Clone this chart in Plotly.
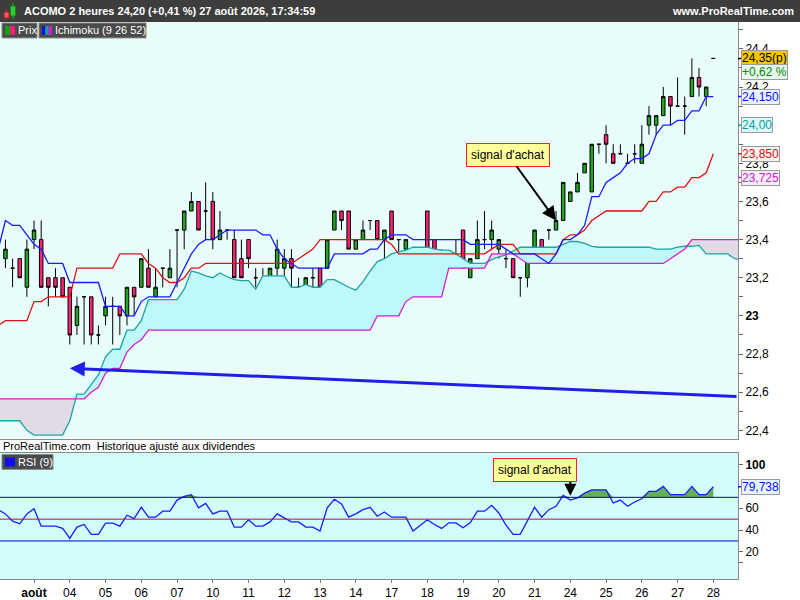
import numpy as np
import plotly.graph_objects as go

FONT = "Liberation Sans, Arial, sans-serif"

# ACOMO, bougies 2 heures. bar 0 = 31 juil. (dernier), bar 5 = 3 août 9h ... bar 99 = 27 août 17h
# bar 100 = cours d'ouverture indicatif (p) du 28 août
candle_bars = list(range(1, 101))
opens = [23.30, 23.25, 23.30, 23.15, 23.40, 23.40, 23.20, 23.20, 23.20, 23.15,
         22.95, 23.10, 23.10, 22.90, 23.00, 23.05, 23.05, 23.00, 23.15, 23.15,
         23.25, 23.10, 23.25, 23.20, 23.45, 23.45, 23.55, 23.60, 23.55, 23.60,
         23.40, 23.45, 23.40, 23.30, 23.40, 23.20, 23.20, 23.20, 23.25, 23.25,
         23.30, 23.15, 23.15, 23.20, 23.25, 23.25, 23.45, 23.55, 23.55, 23.35,
         23.40, 23.50, 23.50, 23.40, 23.55, 23.40, 23.35, 23.30, 23.35, 23.55,
         23.40, 23.25, 23.30, 23.30, 23.45, 23.20, 23.30, 23.40, 23.40, 23.35,
         23.30, 23.30, 23.20, 23.20, 23.35, 23.40, 23.45, 23.45, 23.50, 23.60,
         23.65, 23.75, 23.65, 23.90, 23.95, 23.85, 23.85, 23.80, 23.85, 23.80,
         24.00, 24.00, 24.05, 24.15, 24.10, 24.10, 24.15, 24.25, 24.15, 24.35]
highs = [23.40, 23.30, 23.30, 23.40, 23.50, 23.50, 23.20, 23.25, 23.20, 23.15,
         23.10, 23.10, 23.10, 22.95, 23.10, 23.10, 23.05, 23.15, 23.15, 23.30,
         23.35, 23.25, 23.25, 23.35, 23.45, 23.55, 23.65, 23.60, 23.70, 23.65,
         23.55, 23.45, 23.45, 23.40, 23.40, 23.25, 23.25, 23.25, 23.40, 23.35,
         23.35, 23.20, 23.20, 23.25, 23.25, 23.40, 23.55, 23.55, 23.55, 23.40,
         23.50, 23.50, 23.50, 23.45, 23.55, 23.40, 23.40, 23.30, 23.35, 23.55,
         23.40, 23.35, 23.30, 23.40, 23.45, 23.30, 23.50, 23.55, 23.50, 23.40,
         23.35, 23.30, 23.20, 23.30, 23.45, 23.40, 23.45, 23.55, 23.70, 23.65,
         23.75, 23.80, 23.90, 23.90, 24.00, 23.90, 23.90, 23.85, 23.90, 24.00,
         24.10, 24.05, 24.20, 24.15, 24.25, 24.15, 24.35, 24.30, 24.20, 24.35]
lows = [23.25, 23.15, 23.20, 23.10, 23.35, 23.15, 23.05, 23.10, 23.10, 22.85,
        22.90, 22.85, 22.85, 22.85, 22.95, 22.85, 22.90, 22.95, 23.00, 23.15,
        23.15, 23.10, 23.15, 23.20, 23.15, 23.35, 23.55, 23.45, 23.40, 23.35,
        23.40, 23.40, 23.20, 23.20, 23.25, 23.15, 23.15, 23.10, 23.20, 23.20,
        23.15, 23.15, 23.10, 23.15, 23.15, 23.25, 23.45, 23.45, 23.35, 23.35,
        23.40, 23.45, 23.40, 23.30, 23.40, 23.30, 23.30, 23.25, 23.25, 23.25,
        23.25, 23.25, 23.25, 23.25, 23.25, 23.20, 23.30, 23.35, 23.35, 23.30,
        23.25, 23.20, 23.10, 23.15, 23.35, 23.35, 23.40, 23.45, 23.50, 23.60,
        23.65, 23.75, 23.65, 23.85, 23.80, 23.80, 23.85, 23.80, 23.80, 23.80,
        23.95, 23.95, 24.05, 24.00, 24.10, 23.95, 24.15, 24.15, 24.10, 24.35]
closes = [23.35, 23.25, 23.20, 23.35, 23.45, 23.15, 23.15, 23.15, 23.10, 22.90,
          23.05, 23.10, 22.90, 22.90, 23.05, 23.05, 23.00, 23.15, 23.10, 23.30,
          23.15, 23.15, 23.25, 23.25, 23.45, 23.55, 23.60, 23.45, 23.55, 23.40,
          23.45, 23.45, 23.20, 23.20, 23.30, 23.20, 23.20, 23.25, 23.35, 23.30,
          23.25, 23.15, 23.20, 23.20, 23.15, 23.40, 23.55, 23.50, 23.35, 23.40,
          23.45, 23.50, 23.40, 23.45, 23.40, 23.40, 23.40, 23.25, 23.30, 23.30,
          23.30, 23.25, 23.30, 23.30, 23.25, 23.30, 23.40, 23.40, 23.45, 23.40,
          23.30, 23.20, 23.20, 23.30, 23.45, 23.35, 23.45, 23.50, 23.70, 23.65,
          23.70, 23.80, 23.90, 23.90, 23.90, 23.80, 23.85, 23.80, 23.85, 23.90,
          24.05, 24.05, 24.15, 24.10, 24.10, 24.10, 24.25, 24.20, 24.20, 24.35]

# Ichimoku (9 26 52), bars 0..100
ind_bars = list(range(0, 101))
tenkan = [23.35,
          23.50, 23.475, 23.475, 23.425, 23.375, 23.35, 23.275, 23.275, 23.275, 23.175,
          23.175, 23.175, 23.175, 23.175, 23.05, 23.05, 23.05, 23.00, 23.00, 23.075,
          23.10, 23.10, 23.10, 23.10, 23.175, 23.25, 23.325, 23.375, 23.40, 23.40,
          23.425, 23.45, 23.45, 23.45, 23.45, 23.45, 23.425, 23.425, 23.35, 23.30,
          23.275, 23.25, 23.25, 23.25, 23.25, 23.25, 23.325, 23.325, 23.325, 23.325,
          23.325, 23.35, 23.35, 23.40, 23.425, 23.425, 23.425, 23.40, 23.40, 23.40,
          23.40, 23.40, 23.40, 23.40, 23.40, 23.375, 23.375, 23.375, 23.375, 23.375,
          23.35, 23.325, 23.325, 23.325, 23.325, 23.30, 23.275, 23.325, 23.40, 23.40,
          23.425, 23.475, 23.625, 23.625, 23.70, 23.725, 23.75, 23.80, 23.825, 23.825,
          23.85, 23.95, 24.00, 24.00, 24.025, 24.025, 24.075, 24.075, 24.15, 24.15]
kijun = [22.95,
         22.975, 22.975, 22.975, 22.975, 23.075, 23.075, 23.10, 23.10, 23.10, 23.10,
         23.25, 23.25, 23.25, 23.25, 23.25, 23.25, 23.325, 23.325, 23.325, 23.325,
         23.275, 23.25, 23.20, 23.175, 23.175, 23.20, 23.25, 23.25, 23.275, 23.275,
         23.275, 23.275, 23.275, 23.275, 23.275, 23.275, 23.275, 23.275, 23.275, 23.275,
         23.275, 23.30, 23.325, 23.35, 23.40, 23.40, 23.40, 23.40, 23.40, 23.40,
         23.40, 23.40, 23.40, 23.40, 23.375, 23.325, 23.325, 23.325, 23.325, 23.325,
         23.325, 23.325, 23.325, 23.325, 23.325, 23.325, 23.325, 23.325, 23.35, 23.375,
         23.375, 23.375, 23.325, 23.325, 23.325, 23.325, 23.325, 23.325, 23.40, 23.425,
         23.425, 23.45, 23.50, 23.525, 23.55, 23.55, 23.55, 23.55, 23.55, 23.55,
         23.60, 23.60, 23.65, 23.65, 23.675, 23.675, 23.725, 23.725, 23.75, 23.85]

# Senkou spans (already shifted 26 bars forward), bars 0..104
span_bars = list(range(0, 105))
span_a = [22.45,
          22.45, 22.45, 22.45, 22.40, 22.375, 22.375, 22.375, 22.375, 22.375, 22.45,
          22.59, 22.59, 22.64, 22.69, 22.785, 22.825, 22.825, 22.925, 22.925, 22.975,
          23.085, 23.085, 23.085, 23.085, 23.085, 23.14, 23.235, 23.225, 23.21, 23.20,
          23.225, 23.205, 23.19, 23.185, 23.185, 23.14, 23.21, 23.21, 23.21, 23.21,
          23.15, 23.15, 23.165, 23.15, 23.15, 23.19, 23.19, 23.17, 23.15, 23.135,
          23.18, 23.235, 23.285, 23.30, 23.325, 23.335, 23.345, 23.36, 23.36, 23.36,
          23.35, 23.345, 23.345, 23.325, 23.30, 23.275, 23.275, 23.275, 23.295, 23.31,
          23.32, 23.34, 23.36, 23.36, 23.36, 23.36, 23.36, 23.36, 23.375, 23.39,
          23.39, 23.38, 23.365, 23.36, 23.36, 23.36, 23.36, 23.36, 23.36, 23.36,
          23.36, 23.35, 23.35, 23.35, 23.36, 23.365, 23.365, 23.37, 23.325, 23.325,
          23.325, 23.325, 23.30, 23.295]
span_b = [22.565,
          22.565, 22.565, 22.565, 22.565, 22.565, 22.565, 22.565, 22.565, 22.565, 22.565,
          22.565, 22.565, 22.60, 22.625, 22.70, 22.725, 22.725, 22.81, 22.85, 22.875,
          22.925, 22.925, 22.925, 22.925, 22.925, 22.925, 22.925, 22.925, 22.925, 22.925,
          22.925, 22.925, 22.925, 22.925, 22.925, 22.925, 22.925, 22.925, 22.925, 22.925,
          22.925, 22.925, 22.925, 22.925, 22.925, 22.925, 22.925, 22.925, 22.925, 22.925,
          22.925, 22.925, 23.00, 23.00, 23.00, 23.00, 23.075, 23.10, 23.10, 23.10,
          23.10, 23.10, 23.25, 23.25, 23.25, 23.25, 23.25, 23.25, 23.325, 23.325,
          23.325, 23.325, 23.30, 23.275, 23.275, 23.275, 23.275, 23.275, 23.275, 23.275,
          23.275, 23.275, 23.275, 23.275, 23.275, 23.275, 23.275, 23.275, 23.275, 23.275,
          23.275, 23.275, 23.275, 23.30, 23.325, 23.35, 23.40, 23.40, 23.40, 23.40,
          23.40, 23.40, 23.40, 23.40]
span_a_last = 24.00   # projected values at bar 126 (off screen)
span_b_last = 23.725

# RSI (9), bars 0..100
rsi = [58.6,
       54.8, 48.2, 45.7, 54.8, 59.6, 43.6, 43.6, 43.6, 41.5, 32.4,
       42.7, 45.1, 36.0, 36.0, 46.4, 46.4, 43.6, 53.6, 50.5, 60.9,
       51.8, 51.8, 57.3, 57.3, 67.5, 70.9, 72.4, 60.3, 64.5, 54.8,
       57.3, 57.3, 42.7, 42.7, 49.4, 43.6, 43.6, 47.5, 54.8, 51.2,
       47.5, 47.5, 42.7, 42.7, 39.1, 60.3, 68.2, 63.9, 51.8, 54.8,
       58.7, 60.9, 52.7, 56.6, 51.8, 51.8, 51.8, 39.1, 44.5, 49.4,
       45.1, 41.5, 46.6, 46.6, 42.1, 46.6, 57.3, 57.3, 62.7, 55.7,
       44.5, 36.0, 36.0, 48.7, 60.9, 51.8, 58.7, 61.8, 71.8, 67.5,
       69.4, 73.9, 76.9, 76.9, 76.9, 64.8, 67.5, 61.8, 65.7, 68.7,
       75.5, 75.5, 80.0, 72.4, 72.4, 72.4, 80.0, 72.4, 72.4, 79.738]
rsi_high, rsi_mid, rsi_low = 70, 50, 30

day_ticks = [5, 10, 15, 20, 25, 30, 35, 40, 45, 50, 55, 60, 65, 70, 75, 80, 85, 90, 95, 100]
day_labels = ['<b>août</b>', '04', '05', '06', '07', '10', '11', '12', '13', '14',
              '17', '18', '19', '20', '21', '24', '25', '26', '27', '28']

# labels hidden under the value boxes in the original are left empty
price_ticks = [22.4, 22.5, 22.6, 22.7, 22.8, 22.9, 23.0, 23.1, 23.2, 23.3, 23.4,
               23.5, 23.6, 23.7, 23.8, 23.9, 24.0, 24.1, 24.2, 24.3, 24.4, 24.5]
price_tick_text = ['22,4', '', '22,6', '', '22,8', '', '<b>23</b>', '', '23,2', '', '23,4',
                   '', '23,6', '', '23,8', '', '', '', '24,2', '', '24,4', '']
rsi_ticks = [10, 20, 40, 60, 80, 100]
rsi_tick_text = ['', '20', '40', '60', '', '<b>100</b>']

signal_bar = 78
signal_rsi_bar = 80


def px(X):  # pixel x -> paper
    return X / 738.0


def py(Y):  # pixel y -> paper
    return (581.0 - Y) / 559.0


def fr(v, nd):
    return f"{v:.{nd}f}".replace('.', ',')


a = np.array(span_a)
b = np.array(span_b)

fig = go.Figure()

# cloud
fig.add_trace(go.Scatter(x=span_bars, y=b, mode='lines', line=dict(width=0), hoverinfo='skip'))
fig.add_trace(go.Scatter(x=span_bars, y=np.maximum(a, b), mode='lines', line=dict(width=0),
                         fill='tonexty', fillcolor='#bff8f8', hoverinfo='skip'))
fig.add_trace(go.Scatter(x=span_bars, y=b, mode='lines', line=dict(width=0), hoverinfo='skip'))
fig.add_trace(go.Scatter(x=span_bars, y=np.minimum(a, b), mode='lines', line=dict(width=0),
                         fill='tonexty', fillcolor='#e0dbe5', hoverinfo='skip'))
fig.add_trace(go.Scatter(x=span_bars, y=span_a, mode='lines', line=dict(color='#1fa3a3', width=1.3)))
fig.add_trace(go.Scatter(x=span_bars, y=span_b, mode='lines', line=dict(color='#d21ed2', width=1.3)))
fig.add_trace(go.Scatter(x=ind_bars, y=kijun, mode='lines', line=dict(color='#dd1111', width=1.3)))
fig.add_trace(go.Scatter(x=ind_bars, y=tenkan, mode='lines', line=dict(color='#1a1aff', width=1.3)))

fig.add_trace(go.Candlestick(
    x=candle_bars, open=opens, high=highs, low=lows, close=closes,
    increasing=dict(fillcolor='#21a621', line=dict(color='black', width=1)),
    decreasing=dict(fillcolor='#ff2277', line=dict(color='black', width=1)),
    whiskerwidth=0, hoverinfo='skip'))

# RSI
r = np.array(rsi)
fig.add_trace(go.Scatter(x=ind_bars, y=[rsi_high] * len(rsi), mode='lines', line=dict(width=0),
                         xaxis='x2', yaxis='y2', hoverinfo='skip'))
fig.add_trace(go.Scatter(x=ind_bars, y=np.maximum(r, rsi_high), mode='lines', line=dict(width=0),
                         fill='tonexty', fillcolor='#62b158', xaxis='x2', yaxis='y2', hoverinfo='skip'))
fig.add_trace(go.Scatter(x=ind_bars, y=rsi, mode='lines', line=dict(color='#1a1aff', width=1.3),
                         xaxis='x2', yaxis='y2'))

shapes = []
annotations = []

# RSI panel background and levels
shapes.append(dict(type='rect', xref='x2 domain', yref='y2 domain', x0=0, x1=1, y0=0, y1=1,
                   fillcolor='#d3fcfc', line=dict(width=0), layer='below'))
for lvl, col in [(rsi_high, '#0000c8'), (rsi_mid, '#a01840'), (rsi_low, '#0000c8')]:
    shapes.append(dict(type='line', xref='x2 domain', yref='y2', x0=0, x1=1, y0=lvl, y1=lvl,
                       line=dict(color=col, width=1)))

# header bar
shapes.append(dict(type='rect', xref='paper', yref='paper', x0=px(0), x1=px(800), y0=py(22), y1=py(0),
                   fillcolor='#3d3d3d', line=dict(width=0)))
# header candle icon
shapes += [
    dict(type='line', xref='paper', yref='paper', x0=px(6.5), x1=px(6.5), y0=py(20), y1=py(9),
         line=dict(color='#cc2222', width=1)),
    dict(type='rect', xref='paper', yref='paper', x0=px(4), x1=px(9), y0=py(18), y1=py(12),
         fillcolor='#ff5566', line=dict(color='#aa2222', width=1)),
    dict(type='line', xref='paper', yref='paper', x0=px(13), x1=px(13), y0=py(19), y1=py(3),
         line=dict(color='#22bb22', width=1)),
    dict(type='rect', xref='paper', yref='paper', x0=px(10.5), x1=px(15.5), y0=py(16), y1=py(6),
         fillcolor='#33cc33', line=dict(color='#118811', width=1)),
]
annotations.append(dict(xref='paper', yref='paper', x=px(22), y=py(11), xanchor='left', yanchor='middle',
                        text='<b>ACOMO 2 heures 24,20 (+0,41 %) 27 août 2026, 17:34:59</b>',
                        font=dict(color='white', size=11, family=FONT), showarrow=False))
annotations.append(dict(xref='paper', yref='paper', x=px(796), y=py(11), xanchor='right', yanchor='middle',
                        text='<b>www.ProRealTime.com</b>', font=dict(color='white', size=11, family=FONT),
                        showarrow=False))


def legend_box(x0, x1, y0, y1, colors, label):
    shapes.append(dict(type='rect', xref='paper', yref='paper', x0=px(x0), x1=px(x1), y0=py(y1), y1=py(y0),
                       fillcolor='#4a4a4a', line=dict(color='#8a8a8a', width=1)))
    sx = x0 + 3
    w = 10.0 / len(colors)
    for c in colors:
        shapes.append(dict(type='rect', xref='paper', yref='paper', x0=px(sx), x1=px(sx + w),
                           y0=py(y1 - 3), y1=py(y0 + 3), fillcolor=c, line=dict(width=0)))
        sx += w
    annotations.append(dict(xref='paper', yref='paper', x=px(x0 + 14), y=py((y0 + y1) / 2),
                            xanchor='left', yanchor='middle', text=label, showarrow=False,
                            font=dict(color='white', size=11, family=FONT)))


legend_box(2, 37, 23, 38, ['#11a011', '#ff1a77'], 'Prix')
legend_box(39, 146, 23, 38, ['#1010ee', '#1aa0a0', '#cc22cc'], 'Ichimoku (9 26 52)')
legend_box(2, 53, 456, 471, ['#1010ee'], 'RSI (9)')

annotations.append(dict(xref='paper', yref='paper', x=px(1), y=py(448), xanchor='left', yanchor='middle',
                        text='ProRealTime.com  Historique ajusté aux dividendes', showarrow=False,
                        font=dict(color='black', size=11, family=FONT)))

# right-axis value boxes
def value_box(y, text, color, bg, yref='y', yshift=0):
    annotations.append(dict(xref='paper', yref=yref, x=px(741), y=y, xanchor='left', yanchor='middle',
                            text=text, showarrow=False, yshift=yshift, bgcolor=bg,
                            bordercolor='#9a9a9a', borderwidth=1, borderpad=0,
                            font=dict(color=color, size=12, family=FONT)))
    if yshift == 0:
        shapes.append(dict(type='line', xref='paper', yref=yref, x0=px(738), x1=px(742), y0=y, y1=y,
                           line=dict(color=color, width=1.5)))


pct = (closes[-1] - closes[-2]) / closes[-2] * 100
value_box(closes[-1], fr(closes[-1], 2) + '(p)', 'black', '#f7c600')
value_box(closes[-1], '+' + fr(pct, 2) + ' %', '#008a00', '#e6f8ee', yshift=-14)
value_box(tenkan[-1], fr(tenkan[-1], 3), '#1010ff', '#e8f4fb')
value_box(span_a_last, fr(span_a_last, 2), '#0a9a9a', '#dcfafa')
value_box(kijun[-1], fr(kijun[-1], 3), '#dd1111', '#f8f2f2')
value_box(span_b_last, fr(span_b_last, 3), '#cc22cc', '#f6eef6')
value_box(rsi[-1], fr(rsi[-1], 3), '#1010ff', '#e4f4fb', yref='y2')

# buy signals
annotations.append(dict(x=signal_bar, y=lows[signal_bar - 1] + 0.05, xref='x', yref='y',
                        text="signal d'achat", showarrow=True, ax=-48, ay=-66,
                        arrowhead=2, arrowsize=1.4, arrowwidth=2, arrowcolor='black',
                        bgcolor='#ffff99', bordercolor='#ff2020', borderwidth=1, borderpad=4,
                        font=dict(color='black', size=12, family=FONT)))
annotations.append(dict(x=signal_rsi_bar, y=rsi[signal_rsi_bar] + 4, xref='x2', yref='y2',
                        text='', showarrow=True, ax=0, ay=-26, arrowhead=2, arrowsize=1.2,
                        arrowwidth=2, arrowcolor='black'))
annotations.append(dict(x=signal_rsi_bar, y=rsi[signal_rsi_bar] + 4, xref='x2', yref='y2',
                        text="signal d'achat", showarrow=False, xshift=-35, yshift=26,
                        bgcolor='#ffff99', bordercolor='#ff2020', borderwidth=1, borderpad=4,
                        font=dict(color='black', size=12, family=FONT)))

# long blue arrow
annotations.append(dict(x=10.0, y=22.725, xref='x', yref='y', ax=103.45, ay=22.577,
                        axref='x', ayref='y', text='', showarrow=True, arrowhead=2, arrowsize=1,
                        arrowwidth=3, arrowcolor='#1f1fe8'))

x_range = [0.24, 103.45]
fig.update_layout(
    width=800, height=600,
    margin=dict(l=0, r=62, t=22, b=19),
    paper_bgcolor='white', plot_bgcolor='#e9fcfc',
    showlegend=False, hovermode=False,
    font=dict(family=FONT, size=12, color='black'),
    xaxis=dict(domain=[0, 1], anchor='y', range=x_range, showticklabels=False, ticks='',
               showgrid=False, zeroline=False, showline=True, linecolor='#8a8a8a', mirror=True,
               rangeslider=dict(visible=False)),
    xaxis2=dict(domain=[0, 1], anchor='y2', matches='x', range=x_range, tickmode='array',
                tickvals=day_ticks, ticktext=day_labels, ticks='outside', ticklen=3, tickcolor='#777',
                showgrid=False, zeroline=False, showline=True, linecolor='#8a8a8a', mirror=True,
                tickfont=dict(size=12, color='black', family=FONT)),
    yaxis=dict(domain=[py(440), 1], anchor='x', side='right', range=[22.357, 24.541],
               tickmode='array', tickvals=price_ticks, ticktext=price_tick_text, ticks='outside',
               ticklen=4, tickcolor='#666', showgrid=False, zeroline=False, showline=True,
               linecolor='#8a8a8a', tickfont=dict(size=12, color='black', family=FONT)),
    yaxis2=dict(domain=[0, py(454.3)], anchor='x2', side='right', range=[-4.9, 110.9],
                tickmode='array', tickvals=rsi_ticks, ticktext=rsi_tick_text, ticks='outside',
                ticklen=4, tickcolor='#666', showgrid=False, zeroline=False, showline=True,
                linecolor='#8a8a8a', tickfont=dict(size=12, color='black', family=FONT)),
    shapes=shapes,
    annotations=annotations,
)

fig.write_html("out.html", config={'displayModeBar': False},
               post_script="document.body.style.margin='0';")
